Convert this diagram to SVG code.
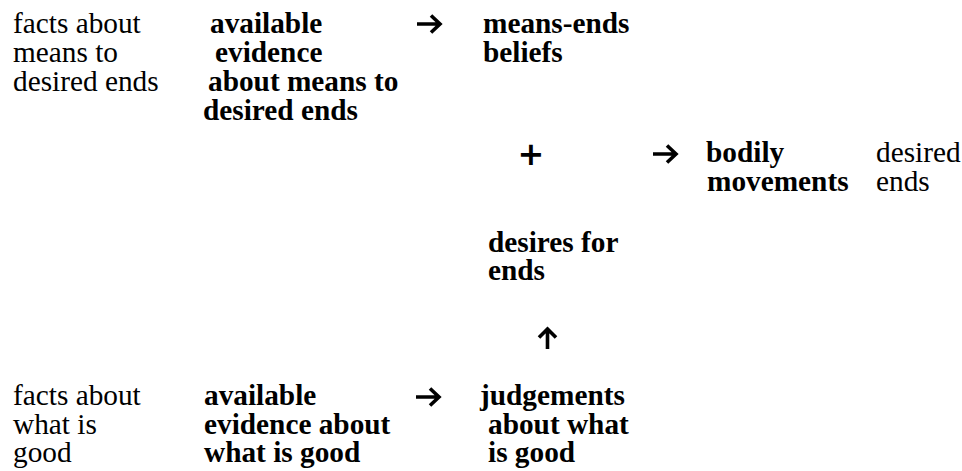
<svg xmlns="http://www.w3.org/2000/svg" width="962" height="471" viewBox="0 0 962 471" font-family="'Liberation Serif','Times New Roman',serif">
<style>
text{font-family:"Liberation Serif","Times New Roman",serif;font-size:29.3px;fill:#000}
.b{font-weight:bold}
.sym{font-family:"DejaVu Sans",sans-serif;font-weight:bold;font-size:32px;text-anchor:middle}
.arr{fill:none;stroke:#000;stroke-width:3.6;stroke-linejoin:miter}
</style>
<rect width="962" height="471" fill="#fff"/>
<g id="facts-means">
<text x="13" y="33">facts about</text>
<text x="13" y="62">means to</text>
<text x="13" y="91">desired ends</text>
</g>
<g id="evidence-means">
<text class="b" x="210" y="33">available</text>
<text class="b" x="215" y="62">evidence</text>
<text class="b" x="208" y="91">about means to</text>
<text class="b" x="203" y="120">desired ends</text>
</g>
<g id="means-ends-beliefs">
<text class="b" x="483" y="33">means-ends</text>
<text class="b" x="483" y="62">beliefs</text>
</g>
<g id="plus">
<text class="sym" x="531" y="165">+</text>
</g>
<g id="bodily-movements">
<text class="b" x="706" y="162">bodily</text>
<text class="b" x="707" y="191">movements</text>
</g>
<g id="desired-ends">
<text x="876" y="162">desired</text>
<text x="876" y="191">ends</text>
</g>
<g id="desires-for-ends">
<text class="b" x="488" y="252">desires for</text>
<text class="b" x="488" y="280">ends</text>
</g>
<g id="facts-good">
<text x="13" y="405">facts about</text>
<text x="13" y="434">what is</text>
<text x="13" y="462">good</text>
</g>
<g id="evidence-good">
<text class="b" x="204" y="405">available</text>
<text class="b" x="204" y="434">evidence about</text>
<text class="b" x="204" y="462">what is good</text>
</g>
<g id="judgements-good">
<text class="b" x="480" y="405">judgements</text>
<text class="b" x="488" y="434">about what</text>
<text class="b" x="488" y="462">is good</text>
</g>
<g id="connectors">
<path class="arr" d="M417,24H440M431,15.5L440,24L431,32.5"/>
<path class="arr" d="M653,154H676M667,145.5L676,154L667,162.5"/>
<path class="arr" d="M416,397H439M430,388.5L439,397L430,405.5"/>
<path class="arr" d="M547.5,349V329M539,337.5L547.5,329L556,337.5"/>
</g>
</svg>
